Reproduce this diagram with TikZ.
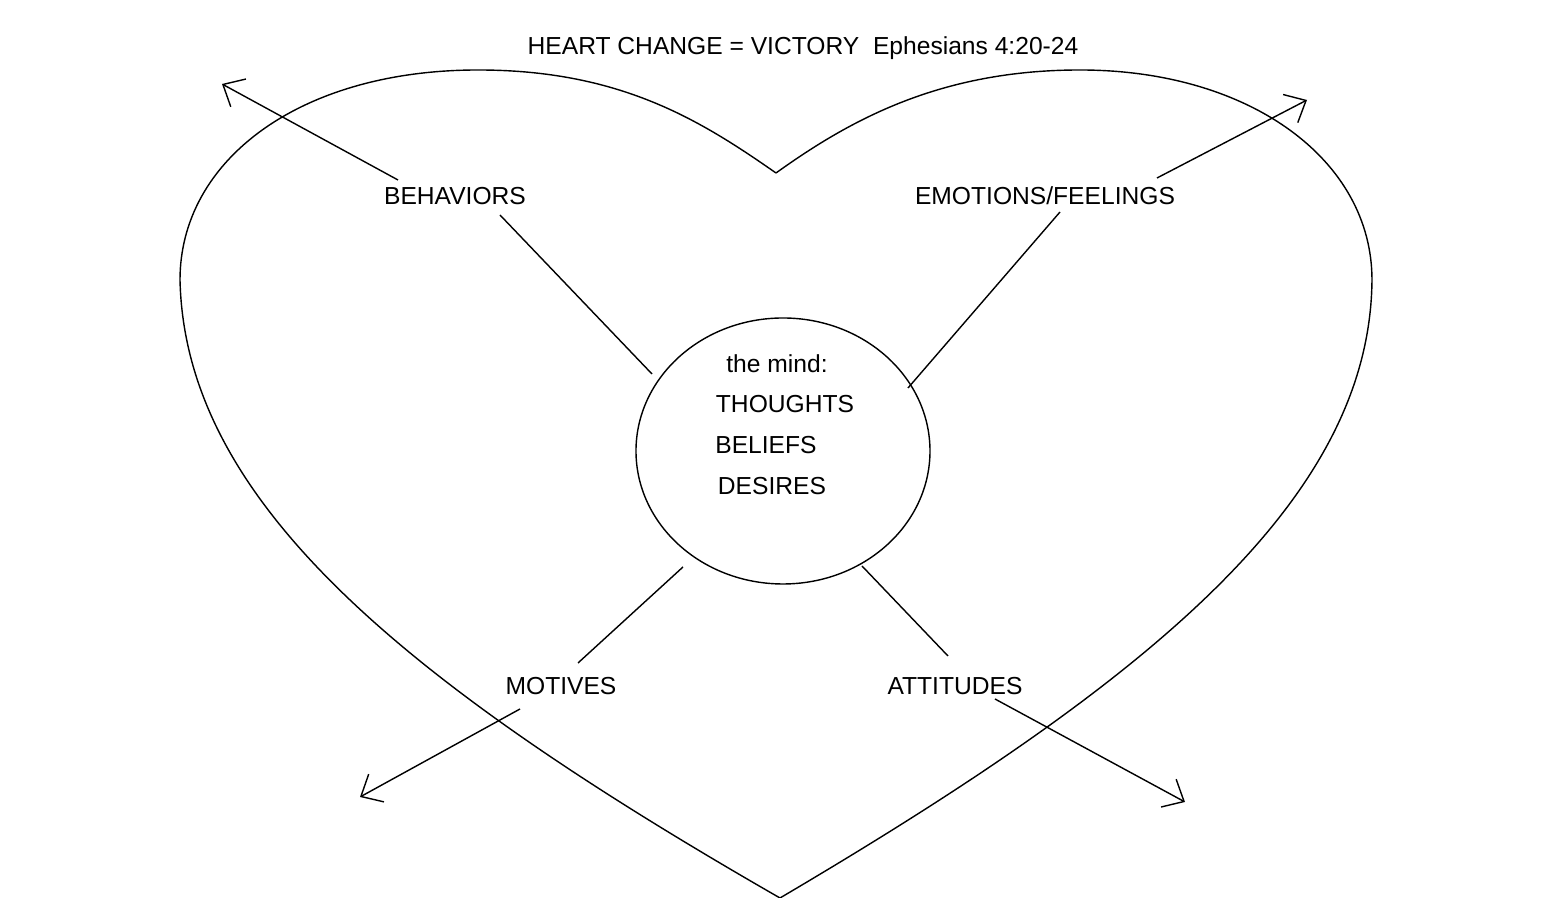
\documentclass[tikz,border=0pt]{standalone}
\usepackage{fontspec}
\setmainfont{Liberation Sans}
\usetikzlibrary{arrows.meta}
\begin{document}
\begin{tikzpicture}[x=0.01cm,y=-0.01cm,
  lbl/.style={font=\fontsize{7}{8}\selectfont, inner sep=0pt},
  outarrow/.style={-{Straight Barb[length=5pt,width=9pt]}}]
\useasboundingbox (0,0) rectangle (1565,898);
\node [lbl] (title) at (803,48) {HEART CHANGE = VICTORY\ \ Ephesians 4:20-24};
\draw (776,173) .. controls (700,120) and (620,70) .. (478,70)
  .. controls (300,70) and (180,160) .. (180,280)
  .. controls (185,500) and (400,680) .. (780,898)
  .. controls (1150,680) and (1370,500) .. (1372,280)
  .. controls (1372,160) and (1250,70) .. (1080,70)
  .. controls (940,70) and (850,120) .. (776,173);
\draw (783,451) ellipse [x radius=147, y radius=133];
\node [lbl] (mind) at (777,364) {the mind:};
\node [lbl] (thoughts) at (785,404) {THOUGHTS};
\node [lbl] (beliefs) at (766,445) {BELIEFS};
\node [lbl] (desires) at (772,486) {DESIRES};
\node [lbl] (behav) at (455,196) {BEHAVIORS};
\node [lbl] (emot) at (1045,196) {EMOTIONS/FEELINGS};
\node [lbl] (motiv) at (561,686) {MOTIVES};
\node [lbl] (attit) at (955,686) {ATTITUDES};
\coordinate (b1) at (500,215); \coordinate (b2) at (652,374);
\coordinate (b3) at (398,180); \coordinate (b4) at (222,84);
\coordinate (e1) at (1060,212); \coordinate (e2) at (908,388);
\coordinate (e3) at (1157,178); \coordinate (e4) at (1307,100);
\coordinate (m1) at (578,663); \coordinate (m2) at (683,567);
\coordinate (m3) at (520,709); \coordinate (m4) at (360,797);
\coordinate (a1) at (948,656); \coordinate (a2) at (862,566);
\coordinate (a3) at (995,699); \coordinate (a4) at (1185,802);
\draw (b1) -- (b2);
\draw [outarrow] (b3) -- (b4);
\draw (e1) -- (e2);
\draw [outarrow] (e3) -- (e4);
\draw (m1) -- (m2);
\draw [outarrow] (m3) -- (m4);
\draw (a1) -- (a2);
\draw [outarrow] (a3) -- (a4);
\end{tikzpicture}
\end{document}
